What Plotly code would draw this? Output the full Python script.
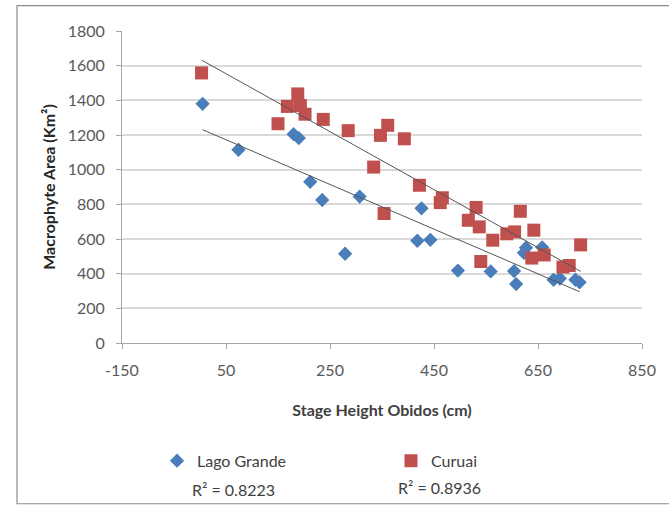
import numpy as np
import plotly.graph_objects as go

# Stage height at Obidos (cm) vs macrophyte area (km²)
lago_grande_x = [5, 74, 180, 190, 212, 235, 279, 307, 418, 426, 443, 496,
                 559, 604, 608, 623, 627, 658, 680, 692, 722, 730]
lago_grande_y = [1380, 1115, 1205, 1182, 930, 825, 515, 845, 590, 777, 595, 418,
                 413, 415, 340, 520, 550, 552, 365, 372, 365, 350]

curuai_x = [3, 150, 168, 188, 193, 202, 237, 285, 334, 347, 354, 361, 393,
            422, 462, 466, 516, 531, 537, 540, 563, 590, 605, 616, 642, 638,
            662, 698, 710, 732]
curuai_y = [1558, 1265, 1365, 1437, 1370, 1320, 1290, 1225, 1015, 1198, 747,
            1256, 1178, 910, 810, 838, 708, 782, 670, 470, 593, 630, 641, 760,
            651, 490, 508, 438, 447, 566]

series_names = ["Lago Grande", "Curuai"]
r2_labels = ["R² = 0.8223", "R² = 0.8936"]

x_ticks = [-150, 50, 250, 450, 650, 850]
y_ticks = [0, 200, 400, 600, 800, 1000, 1200, 1400, 1600, 1800]

BLUE = "#4a7ebb"
RED = "#c0504d"
FONT = "Lato"
TICK_GRAY = "#595959"


def trend(xs, ys):
    xs = np.asarray(xs, float)
    ys = np.asarray(ys, float)
    slope, icpt = np.polyfit(xs, ys, 1)
    xe = np.array([xs.min(), xs.max()])
    return xe, slope * xe + icpt


fig = go.Figure()

fig.add_trace(go.Scatter(
    x=lago_grande_x, y=lago_grande_y, mode="markers", name=series_names[0],
    marker=dict(symbol="diamond", size=11, color=BLUE, line=dict(width=0)),
))
fig.add_trace(go.Scatter(
    x=curuai_x, y=curuai_y, mode="markers", name=series_names[1],
    marker=dict(symbol="square", size=13, color=RED, line=dict(width=0)),
))

for xs, ys in [(lago_grande_x, lago_grande_y), (curuai_x, curuai_y)]:
    tx, ty = trend(xs, ys)
    fig.add_trace(go.Scatter(
        x=tx, y=ty, mode="lines", showlegend=False, hoverinfo="skip",
        line=dict(color="#555555", width=1),
    ))

# R² labels under the legend
r2_pos = [(0.2148, -0.4704), (0.6115, -0.464)]
for txt, (ax, ay) in zip(r2_labels, r2_pos):
    fig.add_annotation(
        text=txt, x=ax, y=ay, xref="paper", yref="paper", showarrow=False,
        xanchor="center", yanchor="middle",
        font=dict(family=FONT, size=16, color="#404040"),
    )

# Chart frame
fig.add_shape(
    type="rect", xref="paper", yref="paper",
    x0=-0.2019, x1=1.07, y0=-0.5152, y1=1.0816,
    line=dict(color="#8c8c8c", width=1.2), fillcolor="rgba(0,0,0,0)", layer="below",
)

fig.update_layout(
    width=669, height=506,
    margin=dict(l=122, r=27, t=30.5, b=163),
    paper_bgcolor="white", plot_bgcolor="white",
    font=dict(family=FONT, color=TICK_GRAY),
    showlegend=True,
    legend=dict(
        orientation="h", x=0.0673, y=-0.3776, xanchor="left", yanchor="middle",
        entrywidth=189, entrywidthmode="pixels",
        font=dict(family=FONT, size=16, color="#404040"),
        bgcolor="rgba(0,0,0,0)", itemclick=False,
    ),
    xaxis=dict(
        range=[-150, 850], tickvals=x_ticks, ticktext=[str(v) for v in x_ticks],
        showgrid=False, zeroline=False,
        showline=True, linecolor="#a6a6a6", linewidth=1,
        ticks="outside", ticklen=5, tickcolor="#a6a6a6",
        ticklabelstandoff=8,
        tickfont=dict(family=FONT, size=16, color=TICK_GRAY),
        title=dict(text="<b>Stage Height Obidos (cm)</b>", standoff=26,
                   font=dict(family=FONT, size=16, color="#404040")),
    ),
    yaxis=dict(
        range=[0, 1800], tickvals=y_ticks, ticktext=[str(v) for v in y_ticks],
        showgrid=True, gridcolor="#d9d9d9", gridwidth=1.5,
        zeroline=False,
        showline=True, linecolor="#a6a6a6", linewidth=1,
        ticks="outside", ticklen=5, tickcolor="#a6a6a6",
        ticklabelstandoff=8,
        tickfont=dict(family=FONT, size=16, color=TICK_GRAY),
        title=dict(text="<b>Macrophyte Area (Km²)</b>", standoff=8,
                   font=dict(family=FONT, size=16, color="#262626")),
    ),
)

fig.write_html("out.html")
